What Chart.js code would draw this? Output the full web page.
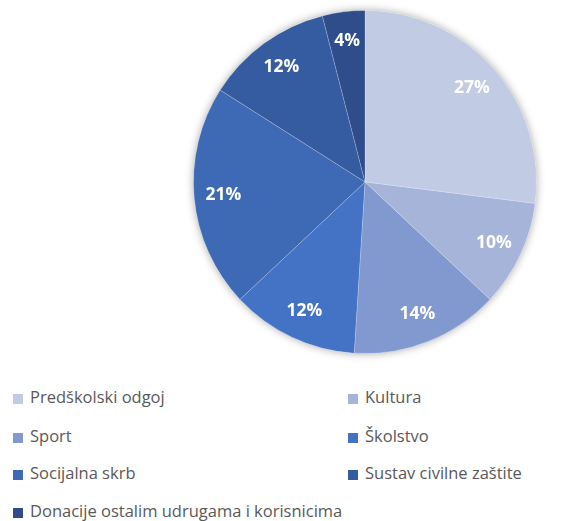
<!DOCTYPE html>
<html>
<head>
<meta charset="utf-8">
<script src="https://cdn.jsdelivr.net/npm/chart.js@4"></script>
<style>
  body { margin: 0; background: #fff; width: 561px; height: 521px; position: relative; overflow: hidden; }
  #pieBox { position: absolute; left: 183px; top: 0; width: 364px; height: 364px; }
  .leg { position: absolute; font-family: "Open Sans", "Noto Sans", sans-serif; font-size: 16.5px; color: #595959; white-space: nowrap; line-height: 20px; }
  .leg span { display: inline-block; width: 10px; height: 10px; margin-right: 7px; vertical-align: -1px; }
</style>
</head>
<body>
<div id="pieBox"><canvas id="pie"></canvas></div>
<div id="legend"></div>
<script>
// budget share pie

const categories = [
  'Predškolski odgoj',
  'Kultura',
  'Sport',
  'Školstvo',
  'Socijalna skrb',
  'Sustav civilne zaštite',
  'Donacije ostalim udrugama i korisnicima'
]
const shares = [27, 10, 14, 12, 21, 12, 4] // percent
const sliceColors = [
  'rgb(193, 203, 228)',
  'rgb(166, 180, 218)',
  'rgb(130, 153, 207)',
  'rgb(68, 114, 196)',
  'rgb(62, 105, 180)',
  'rgb(53, 91, 160)',
  'rgb(46, 77, 138)'
]

// white disc with a soft shadow under the slices
const pieShadow = {
  id: 'pieShadow',
  beforeDatasetsDraw(chart) {
    const arc = chart.getDatasetMeta(0).data[0]
    if (!arc) return
    const ctx = chart.ctx
    ctx.save()
    ctx.shadowColor = 'rgba(0,0,0,0.35)'
    ctx.shadowBlur = 9
    ctx.fillStyle = '#fff'
    ctx.beginPath()
    ctx.arc(arc.x, arc.y, arc.outerRadius, 0, Math.PI * 2)
    ctx.fill()
    ctx.restore()
  }
}

// percent labels inside slices
const pctLabels = {
  id: 'pctLabels',
  afterDatasetsDraw(chart) {
    const ctx = chart.ctx
    const meta = chart.getDatasetMeta(0)
    ctx.save()
    ctx.fillStyle = '#fff'
    ctx.font = 'bold 17.5px "Open Sans", "Noto Sans", sans-serif'
    ctx.textAlign = 'center'
    ctx.textBaseline = 'middle'
    meta.data.forEach((arc, i) => {
      const mid = (arc.startAngle + arc.endAngle) / 2
      const r = arc.outerRadius * 0.83
      ctx.fillText(shares[i] + '%', arc.x + Math.cos(mid) * r, arc.y + Math.sin(mid) * r)
    })
    ctx.restore()
  }
}

const pctx = document.getElementById('pie').getContext('2d')
const pie = new Chart(pctx, {
  type: 'pie',
  data: {
    labels: categories,
    datasets: [{
      data: shares,
      backgroundColor: sliceColors,
      borderColor: 'rgba(255,255,255,0.2)',
      borderWidth: 1
    }]
  },
  options: {
    responsive: true,
    maintainAspectRatio: false,
    animation: false,
    layout: { padding: 10 },
    plugins: {
      legend: { display: false },
      tooltip: { enabled: false }
    }
  },
  plugins: [pieShadow, pctLabels]
})

// legend in two columns under the pie
const legendPos = [
  [13, 387], [348, 387],
  [13, 426], [348, 426],
  [13, 463], [348, 463],
  [13, 501]
]
const legendBox = document.getElementById('legend')
categories.forEach((name, i) => {
  const item = document.createElement('div')
  item.className = 'leg'
  item.style.left = legendPos[i][0] + 'px'
  item.style.top = legendPos[i][1] + 'px'
  item.innerHTML = '<span style="background:' + sliceColors[i] + '"></span>' + name
  legendBox.appendChild(item)
})
</script>
</body>
</html>
